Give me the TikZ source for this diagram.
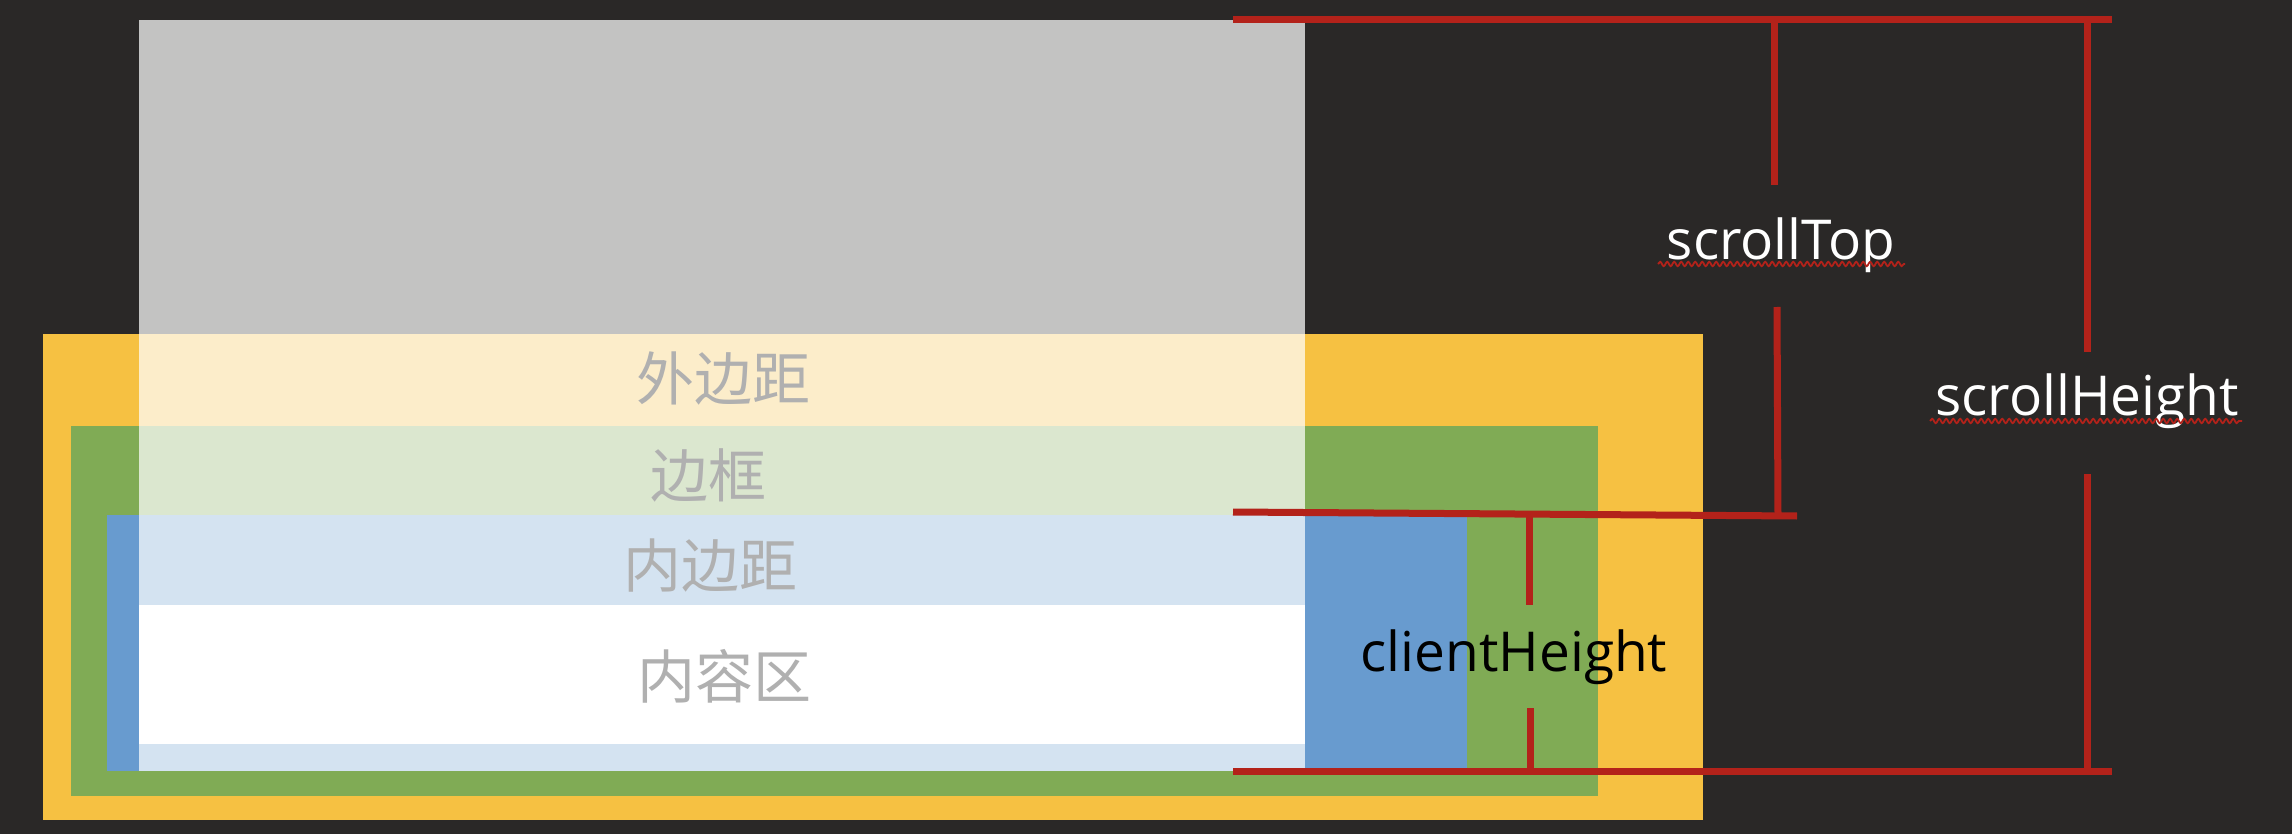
\documentclass[tikz,border=0pt]{standalone}
\usepackage{fontspec}
\setmainfont{Open Sans}
\newfontfamily\cjk{Noto Sans CJK SC}
\usepackage{tikz}
\usetikzlibrary{decorations.pathmorphing}

\definecolor{board}{RGB}{42,40,39}
\definecolor{marginc}{RGB}{246,193,66}
\definecolor{borderc}{RGB}{128,171,85}
\definecolor{paddingc}{RGB}{104,155,207}
\definecolor{measure}{RGB}{179,34,26}
\definecolor{zhgray}{RGB}{176,176,176}

\tikzset{
  measureline/.style={draw=measure, line width=3.5pt},
  zhlabel/.style={inner sep=0pt, text=zhgray, font=\cjk\fontsize{29}{29}\selectfont},
  enlabel/.style={inner sep=0pt, font=\fontsize{27.5}{27.5}\selectfont},
  spellmark/.style={draw=measure, line width=0.9pt, decorate,
    decoration={snake, segment length=3.5pt, amplitude=1.1pt}}
}

\begin{document}
\begin{tikzpicture}[x=0.5pt,y=0.5pt,yscale=-1,xscale=1]
    \useasboundingbox (0,0) rectangle (2292,834);

    %Background
    \fill [board] (0,0) rectangle (2292,834);

    %Box layers
    \fill [marginc] (43,334) rectangle (1703,820);
    \fill [borderc] (71,426) rectangle (1598,796);
    \fill [paddingc] (107,515) rectangle (1467,771);
    \fill [white] (139,605) rectangle (1305,744);
    %Scrolled-away part
    \fill [white, opacity=0.72] (139,20) rectangle (1305,771);

    %Straight Lines
    \draw [measureline] (1233,20) -- (2112,20) ;
    %Straight Lines
    \draw [measureline] (1233,512) -- (1797,516) ;
    %Straight Lines
    \draw [measureline] (1233,771) -- (2112,771) ;
    %Straight Lines
    \draw [measureline] (1774,20) -- (1774,185) ;
    \draw [measureline] (1777,307) -- (1778,516) ;
    %Straight Lines
    \draw [measureline] (2087,20) -- (2087,352) ;
    \draw [measureline] (2087,474) -- (2087,771) ;
    %Straight Lines
    \draw [measureline] (1529,514) -- (1529,605) ;
    \draw [measureline] (1530,708) -- (1530,771) ;

    % Text Node
    \node [zhlabel] (margin) at (723,378) {外边距};
    % Text Node
    \node [zhlabel] (border) at (708,475) {边框};
    % Text Node
    \node [zhlabel] (padding) at (710,566) {内边距};
    % Text Node
    \node [zhlabel] (content) at (724,676) {内容区};

    % Text Node
    \node [enlabel, text=white] (scrolltop) at (1781,245) {scrollTop};
    \draw [spellmark] (1658,264) -- (1905,264);
    % Text Node
    \node [enlabel, text=white] (scrollheight) at (2087,401) {scrollHeight};
    \draw [spellmark] (1930,421) -- (2242,421);
    % Text Node
    \node [enlabel, text=black] (clientheight) at (1514,657) {clientHeight};

\end{tikzpicture}
\end{document}
